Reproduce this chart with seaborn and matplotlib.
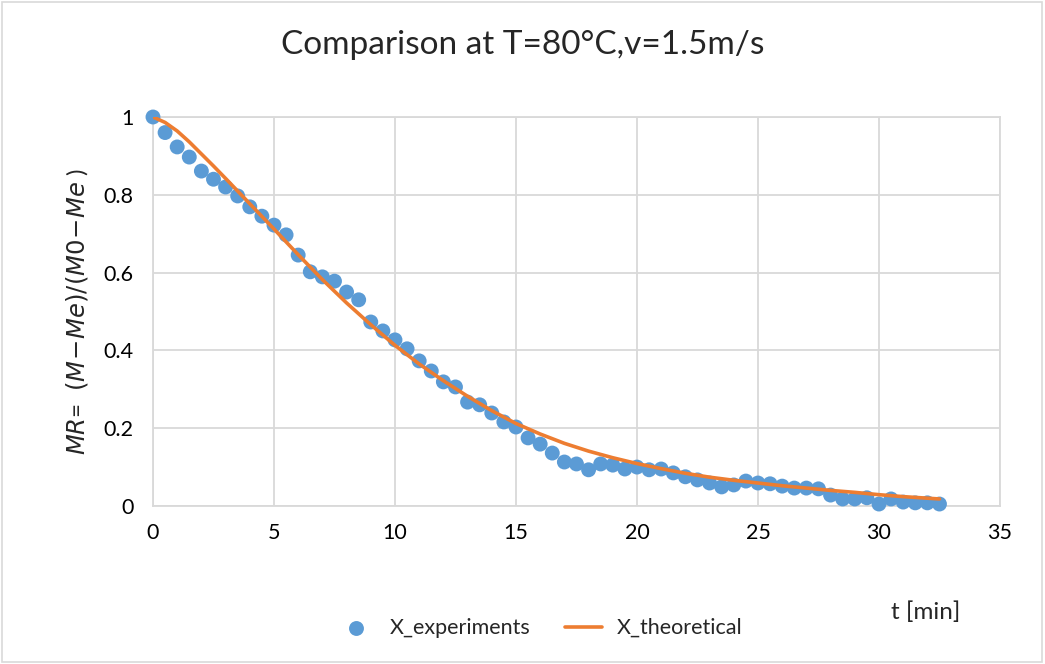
import numpy as np
import pandas as pd
import matplotlib
matplotlib.use("Agg")
import matplotlib.pyplot as plt
import seaborn as sns
from matplotlib.patches import Rectangle

t_exp = np.arange(0, 33, 0.5)
mr_exp = [1.0, 0.96, 0.923, 0.897, 0.861, 0.84, 0.82, 0.797, 0.769, 0.745,
          0.722, 0.697, 0.645, 0.602, 0.589, 0.578, 0.55, 0.53, 0.473, 0.45,
          0.427, 0.404, 0.373, 0.347, 0.319, 0.306, 0.267, 0.26, 0.239, 0.216,
          0.203, 0.175, 0.159, 0.136, 0.113, 0.108, 0.093, 0.108, 0.105, 0.095,
          0.1, 0.093, 0.095, 0.085, 0.075, 0.067, 0.059, 0.049, 0.054, 0.064,
          0.059, 0.057, 0.051, 0.046, 0.046, 0.044, 0.028, 0.018, 0.018, 0.021,
          0.005, 0.018, 0.01, 0.008, 0.008, 0.005]

# Theoretical curve
t_th = [0, 0.5, 1, 1.5, 2, 2.5, 3, 4, 5, 6, 7, 8, 9, 10, 11, 12, 13, 14, 15, 16, 17,
        18, 19, 20, 21, 22, 23, 24, 25, 26, 27, 28, 29, 30, 31, 32, 32.5]
mr_th = [1.0, 0.986, 0.964, 0.936, 0.905, 0.874, 0.842, 0.777, 0.712, 0.646, 0.582,
         0.522, 0.466, 0.413, 0.365, 0.322, 0.282, 0.245, 0.212, 0.185, 0.161,
         0.141, 0.124, 0.109, 0.096, 0.084, 0.074, 0.066, 0.059, 0.052, 0.046,
         0.040, 0.035, 0.029, 0.024, 0.020, 0.018]

df_exp = pd.DataFrame({"t": t_exp, "MR": mr_exp})
df_th = pd.DataFrame({"t": t_th, "MR": mr_th})

sns.set_style("white")
plt.rcParams["font.family"] = ["Lato", "DejaVu Sans"]
plt.rcParams["mathtext.fontset"] = "dejavusans"

fig = plt.figure(figsize=(10.45, 6.64), dpi=100)
ax = fig.add_axes([0.1464, 0.238, 0.8105, 0.5858])

sns.scatterplot(data=df_exp, x="t", y="MR", ax=ax, color="#5b9bd5", s=115,
                edgecolor="none", label="X_experiments", zorder=3, clip_on=False)
sns.lineplot(data=df_th, x="t", y="MR", ax=ax, color="#ed7d31", linewidth=2.6,
             label="X_theoretical", zorder=4)

ax.set_xlim(0, 35)
ax.set_ylim(0, 1)
ax.set_xticks(range(0, 36, 5))
ax.set_yticks([0, 0.2, 0.4, 0.6, 0.8, 1])
ax.set_yticklabels(["0", "0.2", "0.4", "0.6", "0.8", "1"])
ax.grid(True, color="#d9d9d9", linewidth=1.3)
for s in ax.spines.values():
    s.set_color("#d9d9d9")
    s.set_linewidth(1.3)
ax.tick_params(axis="both", length=0, labelsize=15.5, colors="black")
ax.tick_params(axis="x", pad=12)
ax.tick_params(axis="y", pad=14)
ax.set_xlabel("")
ax.set_ylabel(r"$MR$=  $(M\!-\!Me)/(M0\!-\!Me$ )", fontsize=17.5, labelpad=10)

ax.legend_.remove()
h, l = ax.get_legend_handles_labels()
fig.legend(h, l, loc="center", bbox_to_anchor=(0.517, 0.054), ncol=2,
           frameon=False, fontsize=15.5, handlelength=1.7, columnspacing=1.6,
           handletextpad=0.7)

fig.suptitle("Comparison at T=80°C,v=1.5m/s", y=0.955, fontsize=24)
fig.text(0.886, 0.078, "t [min]", fontsize=17.5, ha="center", va="center")

fig.patches.append(Rectangle((0.002, 0.003), 0.995, 0.994, transform=fig.transFigure,
                             fill=False, edgecolor="#d9d9d9", linewidth=1.2))

fig.savefig("out.png", dpi=100)
